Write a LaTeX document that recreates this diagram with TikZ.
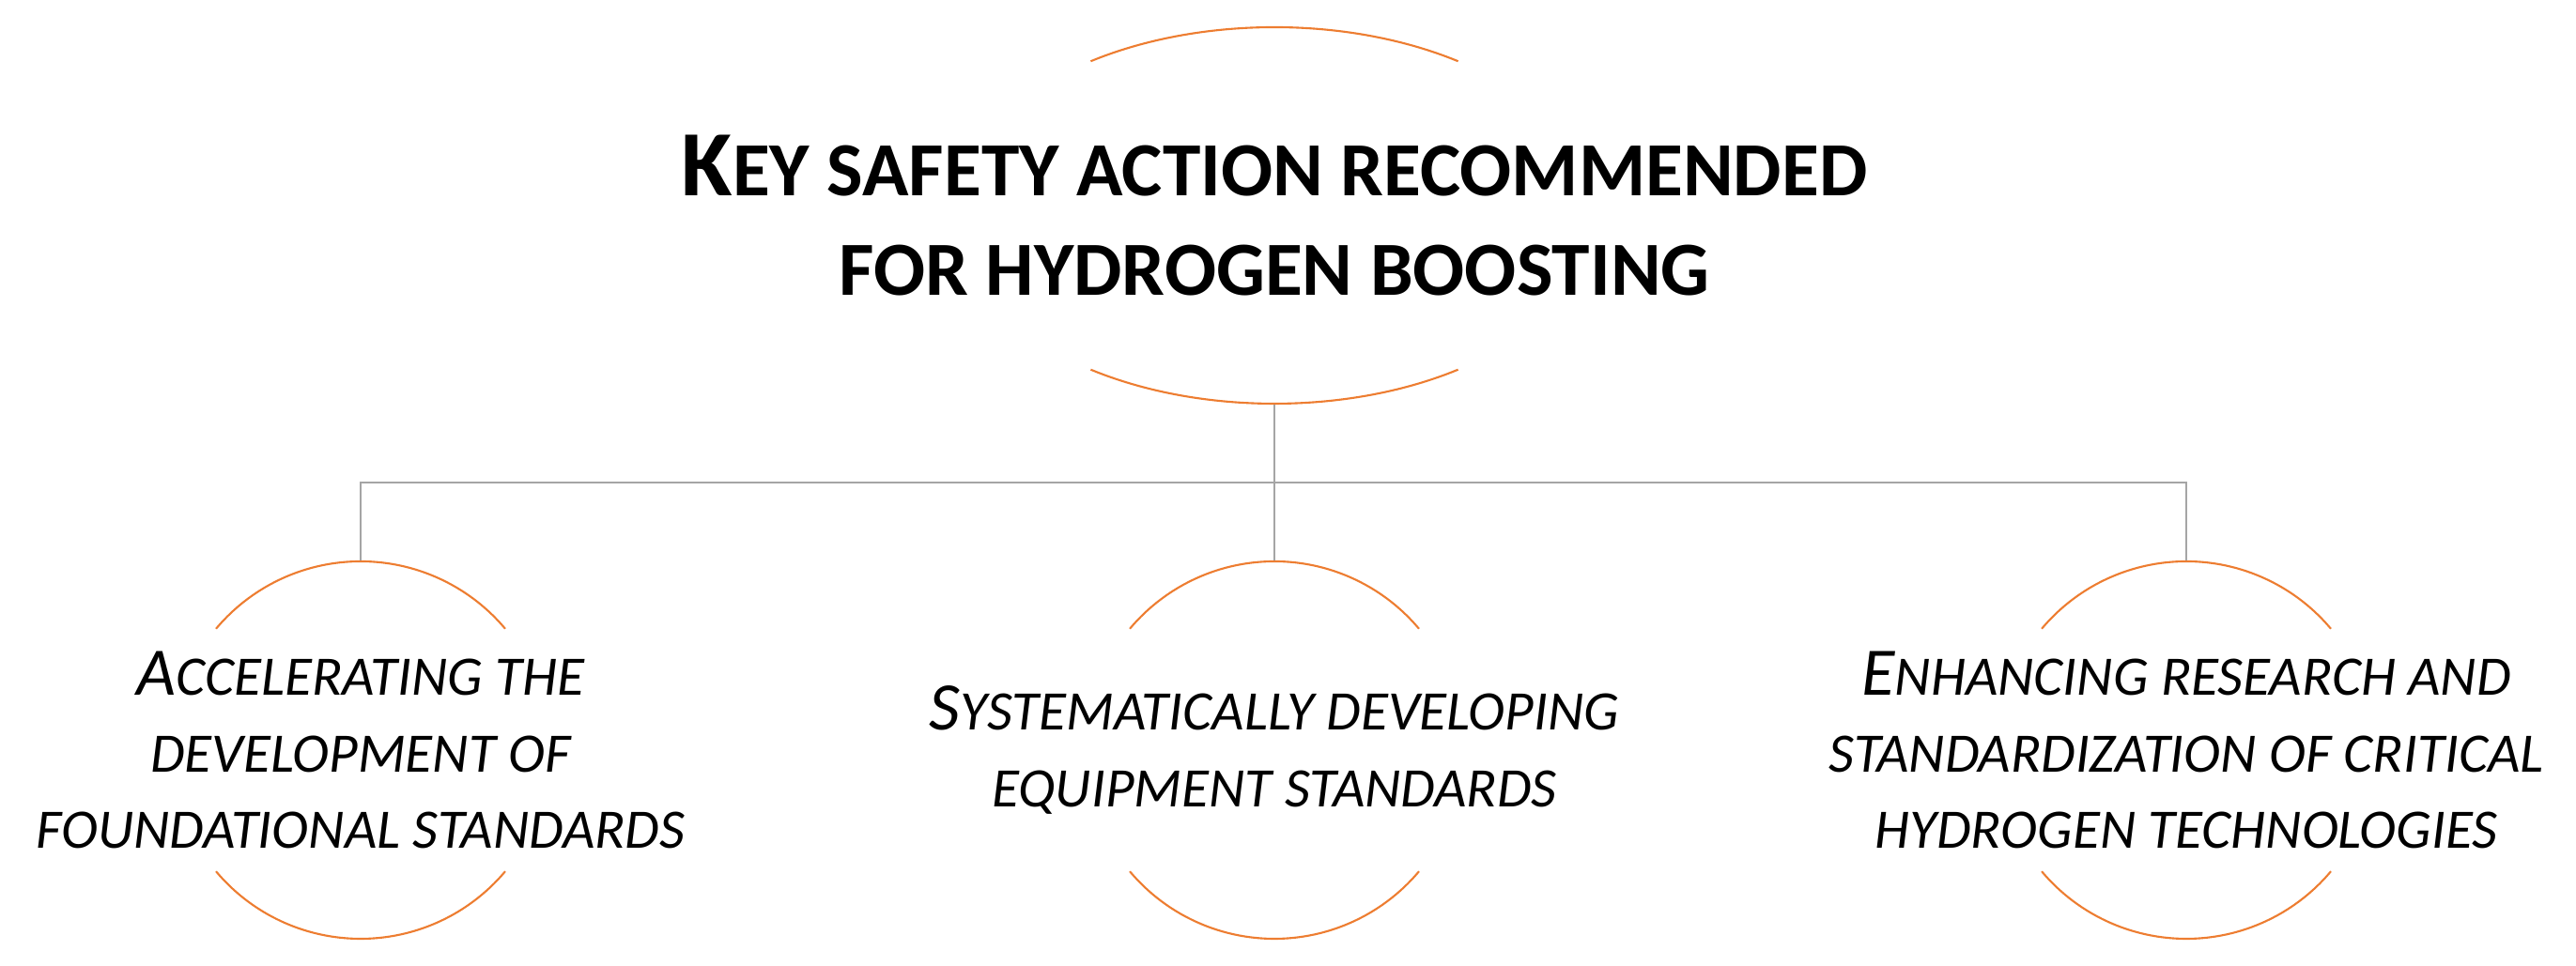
\documentclass[tikz,border=0pt]{standalone}
\usepackage{fontspec}
\setmainfont{Carlito}
\usepackage{graphicx}
\usetikzlibrary{shapes.geometric}
\definecolor{arcorange}{HTML}{ED7D31}
\definecolor{linkgray}{HTML}{A5A5A5}
\newcommand{\initial}[1]{\scalebox{1.22}{#1}}

\begin{document}
\begin{tikzpicture}[
        arcline/.style={draw=arcorange, line width=0.6pt},
        link/.style={draw=linkgray, line width=0.6pt},
        ring/.style={circle, minimum size=4.02cm, inner sep=0pt},
        blurb/.style={align=center, font=\itshape\fontsize{16.9}{23.3}\selectfont}
    ]
        \useasboundingbox (0,0) rectangle (27.43,10.29);
        %%%TITLE%%%
        \node[ellipse, minimum width=6.82cm, minimum height=4.01cm, inner sep=0pt] (hub) at (13.57,7.995) {};
        \node[align=center, font=\bfseries\fontsize{23.2}{30.4}\selectfont] (title) at (hub) {\initial{K}EY SAFETY ACTION RECOMMENDED\\FOR HYDROGEN BOOSTING};
        \draw[arcline] (hub) ++(55:3.41 and 2.005) arc[start angle=55, end angle=125, x radius=3.41, y radius=2.005];
        \draw[arcline] (hub) ++(235:3.41 and 2.005) arc[start angle=235, end angle=305, x radius=3.41, y radius=2.005];
        %%%ACTIONS%%%
        \node[ring] (acc) at (3.84,2.30) {};
        \node[ring] (sys) at (13.57,2.30) {};
        \node[ring] (enh) at (23.28,2.30) {};
        \node[blurb] (accT) at (acc) {\initial{A}CCELERATING THE\\DEVELOPMENT OF\\FOUNDATIONAL STANDARDS};
        \node[blurb] (sysT) at (sys) {\initial{S}YSTEMATICALLY DEVELOPING\\EQUIPMENT STANDARDS};
        \node[blurb] (enhT) at (enh) {\initial{E}NHANCING RESEARCH AND\\STANDARDIZATION OF CRITICAL\\HYDROGEN TECHNOLOGIES};
        %arcs
        \draw[arcline] (acc) ++(40:2.01) arc[start angle=40, end angle=140, radius=2.01];
        \draw[arcline] (acc) ++(220:2.01) arc[start angle=220, end angle=320, radius=2.01];
        \draw[arcline] (sys) ++(40:2.01) arc[start angle=40, end angle=140, radius=2.01];
        \draw[arcline] (sys) ++(220:2.01) arc[start angle=220, end angle=320, radius=2.01];
        \draw[arcline] (enh) ++(40:2.01) arc[start angle=40, end angle=140, radius=2.01];
        \draw[arcline] (enh) ++(220:2.01) arc[start angle=220, end angle=320, radius=2.01];
        %%%CONNECTORS%%%
        \coordinate (bus) at (13.57,5.15);
        \draw[link] (hub.south) -- (bus);
        \draw[link] (acc.north) |- (bus) -| (enh.north);
        \draw[link] (bus) -- (sys.north);
    \end{tikzpicture}
\end{document}
